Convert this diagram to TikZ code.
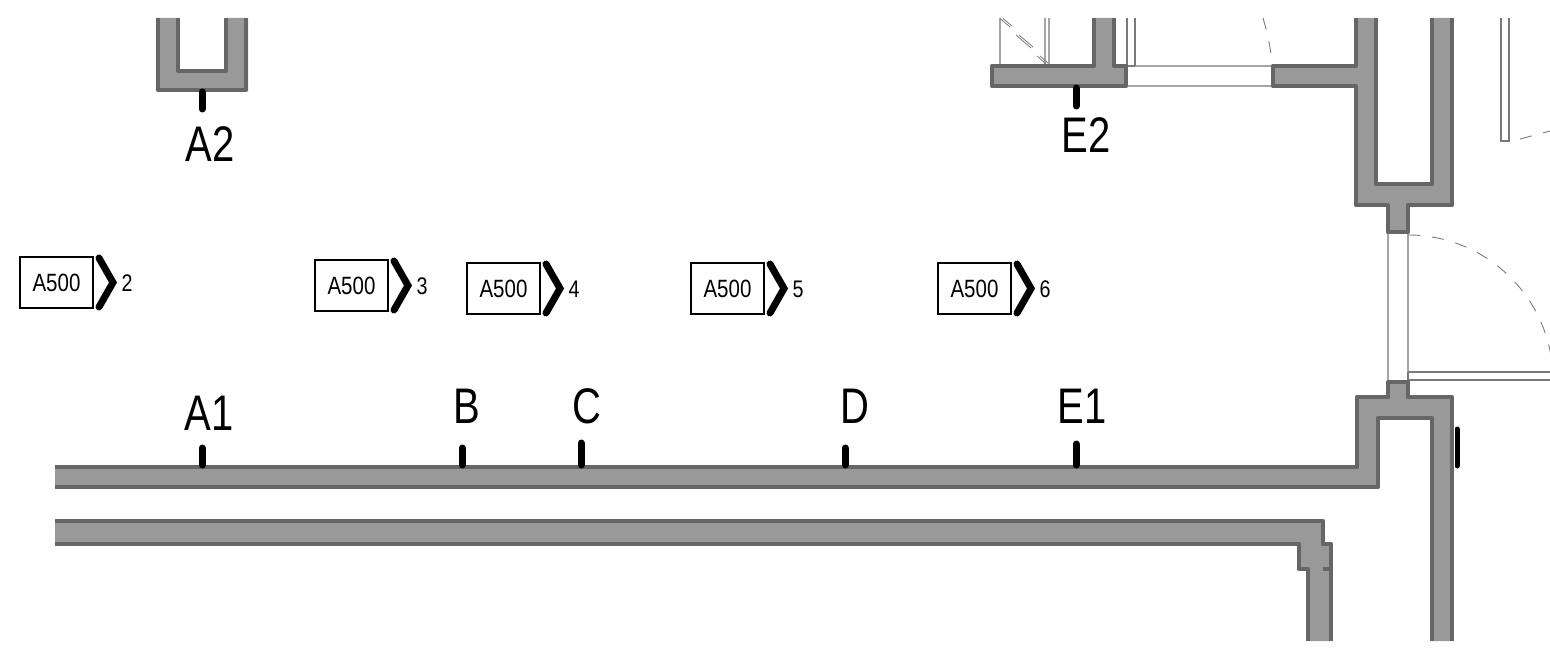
\documentclass[tikz,border=0pt]{standalone}
\usepackage{fontspec}
\setmainfont{Liberation Sans}
\newfontfamily\labelfont[FakeStretch=0.8]{Liberation Sans}
\newfontfamily\markfont[FakeStretch=0.82]{Liberation Sans}
\definecolor{wallfill}{HTML}{999999}
\definecolor{wallline}{HTML}{666666}
\definecolor{thinline}{HTML}{A6A6A6}
\definecolor{darkthin}{HTML}{7A7A7A}
\tikzset{
  wallarea/.style={fill=wallfill,draw=none},
  walledge/.style={draw=wallline,line width=4.5pt,line join=round,line cap=butt},
  glass/.style={draw=thinline,line width=1.4pt},
  frameline/.style={draw=darkthin,line width=1.4pt},
  swing/.style={draw=darkthin,line width=0.9pt,dash pattern=on 12pt off 12pt},
  tick/.style={line width=7pt,line cap=round,black},
  gridlabel/.style={font=\labelfont\fontsize{50}{50}\selectfont,anchor=base,inner sep=0pt,text=black},
  markbox/.style={draw=black,line width=1.4pt,minimum width=73pt,minimum height=51pt,inner sep=0pt,font=\markfont\fontsize{25}{25}\selectfont},
  marknum/.style={font=\markfont\fontsize{24}{24}\selectfont,inner sep=0pt},
  chevron/.style={line width=7pt,line cap=round,line join=miter,black}
}
\newcommand{\secmark}[4]{%
  \node[markbox] (box#4) at (#1+36.5,#2+25.5) {A500};
  \coordinate (cha#4) at (#1+79,#2+1);
  \coordinate (chb#4) at (#1+93,#2+25.5);
  \coordinate (chc#4) at (#1+79,#2+50);
  \draw[chevron] (cha#4) -- (chb#4) -- (chc#4);
  \node[marknum] (num#4) at (#1+107,#2+26) {#3};
}
\newcommand{\gridmark}[6]{%
  \node[gridlabel] (lab#1) at (#2,#3) {#1};
  \coordinate (ta#1) at (#4,#5);
  \coordinate (tb#1) at (#4,#6);
  \draw[tick] (ta#1) -- (tb#1);
}
\begin{document}
\begin{tikzpicture}[x=1pt,y=-1pt]
\useasboundingbox (0,0) rectangle (1550,650);
\fill[white] (0,0) rectangle (1550,650);

% thin lines, upper door/window
\draw[glass] (1000,18) -- (1000,64) (1045,18) -- (1045,64) (1049,18) -- (1049,64);
\draw[glass] (1128,66) -- (1273,66) (1128,86) -- (1273,86);
\draw[frameline] (1127,18) -- (1127,66) (1135,18) -- (1135,66) (1127,66) -- (1135,66);
\draw[darkthin,line width=0.8pt]
  (1000,18.5) -- (1010,27) (1003,18.5) -- (1012,26)
  (1016,35) -- (1031,48) (1019,35) -- (1033,47)
  (1037,56) -- (1046,64) (1040,56) -- (1048,63);
\draw[swing] (1263,18) .. controls (1267,32) and (1271,48) .. (1272,65);
% right slim element
\draw[frameline] (1501,18) -- (1501,141) -- (1509,141) -- (1509,18);
\draw[swing] (1520,139) -- (1550,131);
% door
\draw[glass] (1388,234) -- (1388,380) (1408,234) -- (1408,380);
\draw[frameline] (1408,372) -- (1550,372) (1408,380) -- (1550,380) (1408,372) -- (1408,380);
\draw[swing] (1408,235) arc[start angle=-90,end angle=-8,radius=145];

% walls
\fill[wallarea] (156,18) rectangle (178,90) (226,18) rectangle (248,90) (156,71) rectangle (248,91);
\draw[walledge] (158,18) -- (158,90) -- (246,90) -- (246,18);
\draw[walledge] (178,18) -- (178,71) -- (226,71) -- (226,18);

\fill[wallarea] (1094,18) -- (1094,66) -- (992,66) -- (992,86) -- (1126,86) -- (1126,66) -- (1114,66) -- (1114,18) -- cycle;
\draw[walledge] (1094,18) -- (1094,66) -- (992,66) -- (992,86) -- (1126,86) -- (1126,66) -- (1114,66) -- (1114,18);

\fill[wallarea] (1356,18) -- (1356,66) -- (1273,66) -- (1273,86) -- (1356,86) -- (1356,205) -- (1388,205) -- (1388,232) -- (1408,232) -- (1408,205) -- (1452,205) -- (1452,18) -- (1432,18) -- (1432,184) -- (1376,184) -- (1376,18) -- cycle;
\draw[walledge] (1356,18) -- (1356,66) -- (1273,66) -- (1273,86) -- (1356,86) -- (1356,205) -- (1388,205) -- (1388,232) -- (1408,232) -- (1408,205) -- (1452,205) -- (1452,18);
\draw[walledge] (1432,18) -- (1432,184) -- (1376,184) -- (1376,18);

\fill[wallarea] (55,467) -- (1357,467) -- (1357,397) -- (1388,397) -- (1388,382) -- (1408,382) -- (1408,397) -- (1452,397) -- (1452,641) -- (1432,641) -- (1432,418) -- (1378,418) -- (1378,487) -- (55,487) -- cycle;
\draw[walledge] (55,467) -- (1357,467) -- (1357,397) -- (1388,397) -- (1388,382) -- (1408,382) -- (1408,397) -- (1452,397) -- (1452,641);
\draw[walledge] (1432,641) -- (1432,418) -- (1378,418) -- (1378,487) -- (55,487);

\fill[wallarea] (55,521) -- (1323,521) -- (1323,544) -- (1331,544) -- (1331,641) -- (1308,641) -- (1308,569) -- (1299,569) -- (1299,544) -- (55,544) -- cycle;
\draw[walledge] (55,521) -- (1323,521) -- (1323,544) -- (1331,544) -- (1331,641);
\draw[walledge] (1308,641) -- (1308,569) -- (1299,569) -- (1299,544) -- (55,544);
\draw[walledge] (1323,569) -- (1331,569);

% section marks
\secmark{20}{257}{2}{a}
\secmark{315}{260}{3}{b}
\secmark{467}{263}{4}{c}
\secmark{691}{263}{5}{d}
\secmark{938}{263}{6}{e}

% grid marks
\gridmark{A2}{210}{161}{202}{92}{109}
\gridmark{E2}{1086}{153}{1076}{88}{106}
\gridmark{A1}{209}{430}{202}{448}{465}
\gridmark{B}{467}{423}{462}{448}{465}
\gridmark{C}{587}{423}{581}{443}{465}
\gridmark{D}{855}{423}{845}{448}{465}
\gridmark{E1}{1082}{423}{1076}{444}{465}
\coordinate (sideA) at (1457,429);
\coordinate (sideB) at (1457,466);
\draw[line width=5pt,black,line cap=round] (sideA) -- (sideB);
\end{tikzpicture}
\end{document}
